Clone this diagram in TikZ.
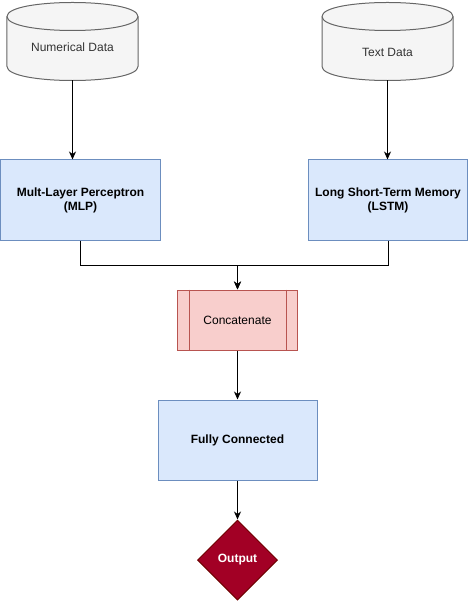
\documentclass[tikz,border=0pt]{standalone}
\usepackage{fontspec}
\setmainfont{Liberation Sans}
\usetikzlibrary{arrows.meta, positioning, shapes.geometric, calc}

\definecolor{storefill}{HTML}{F5F5F5}
\definecolor{storeedge}{HTML}{666666}
\definecolor{storetext}{HTML}{333333}
\definecolor{layerfill}{HTML}{DAE8FC}
\definecolor{layeredge}{HTML}{6C8EBF}
\definecolor{mergefill}{HTML}{F8CECC}
\definecolor{mergeedge}{HTML}{B85450}
\definecolor{outfill}{HTML}{A20025}
\definecolor{outedge}{HTML}{6F0000}

\begin{document}
\begin{tikzpicture}[
            x=1bp, y=-1bp,
            line width=1bp,
            font=\fontsize{12bp}{14bp}\selectfont,
            store/.style={minimum width=130bp, minimum height=77bp, inner sep=0pt},
            storeline/.style={draw=storeedge, fill=storefill},
            storelabel/.style={text=storetext, inner sep=0pt},
            layer/.style={draw=layeredge, fill=layerfill, minimum width=159bp, minimum height=80bp, align=center, font=\fontsize{12bp}{14bp}\selectfont\bfseries},
            merge/.style={draw=mergeedge, fill=mergefill, minimum width=120bp, minimum height=60bp},
            result/.style={diamond, draw=outedge, fill=outfill, text=white, minimum width=80bp, minimum height=80bp, inner sep=0pt, font=\fontsize{12bp}{14bp}\selectfont\bfseries},
            link/.style={-{Stealth[length=8bp, width=7bp, inset=2.5bp]}, black}
        ]
            \useasboundingbox (0,0) rectangle (469,601);

            % data sources
            \node[store] (num) at (72.5,41.5) {};
            \node[store] (txt) at (387.5,41.5) {};
            \foreach \s in {num,txt} {
                \draw[storeline] ($(\s.north west)+(0,14)$) .. controls ($(\s.north west)+(0,-4.67)$) and ($(\s.north east)+(0,-4.67)$) .. ($(\s.north east)+(0,14)$) -- ($(\s.south east)+(0,-14)$) .. controls ($(\s.south east)+(0,4.67)$) and ($(\s.south west)+(0,4.67)$) .. ($(\s.south west)+(0,-14)$) -- cycle;
                \draw[draw=storeedge] ($(\s.north west)+(0,14)$) .. controls ($(\s.north west)+(0,32.67)$) and ($(\s.north east)+(0,32.67)$) .. ($(\s.north east)+(0,14)$);
            }
            \node[storelabel] (numlabel) at (72.5,47) {Numerical Data};
            \node[storelabel] (txtlabel) at (387.5,52) {Text Data};

            % branches
            \node[layer] (mlp) at (80.5,200) {Mult-Layer Perceptron\\(MLP)};
            \node[layer] (lstm) at (388,200) {Long Short-Term Memory\\(LSTM)};

            % merge and head
            \node[merge] (concat) at (237.5,320) {Concatenate};
            \draw[draw=mergeedge] ($(concat.north west)+(12,0)$) -- ($(concat.south west)+(12,0)$);
            \draw[draw=mergeedge] ($(concat.north east)+(-12,0)$) -- ($(concat.south east)+(-12,0)$);
            \node[layer] (fc) at (237.5,440) {Fully Connected};
            \node[result] (out) at (237.5,560) {Output};

            \coordinate (join) at (237.5,265);

            \draw[link] (num.south) -- (num.south |- mlp.north);
            \draw[link] (txt.south) -- (txt.south |- lstm.north);
            \draw[link] (mlp.south) |- (join) -- (concat.north);
            \draw[link] (lstm.south) |- (join) -- (concat.north);
            \draw[link] (concat.south) -- (fc.north);
            \draw[link] (fc.south) -- (out.north);
        \end{tikzpicture}
\end{document}
